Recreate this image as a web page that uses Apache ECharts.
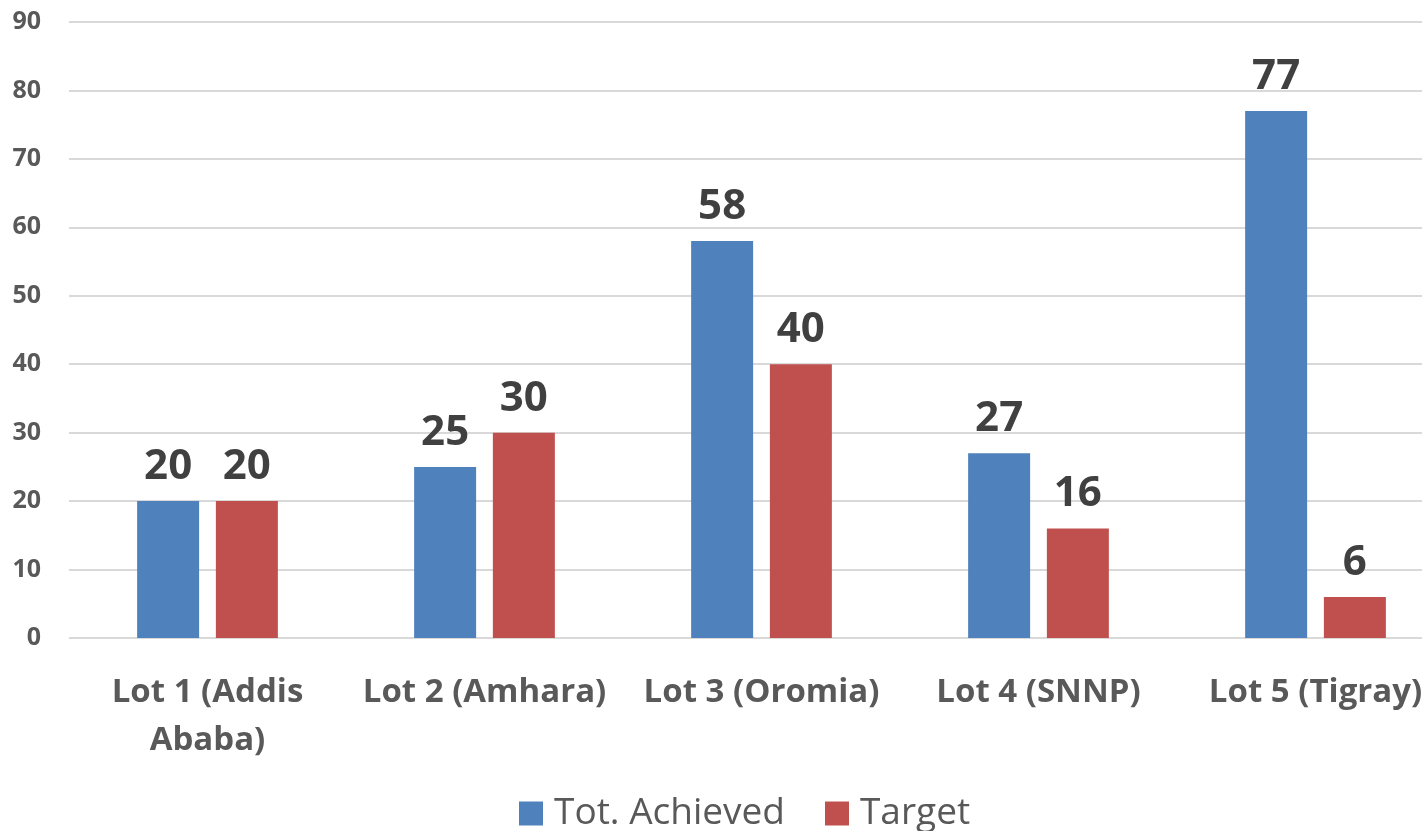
<!DOCTYPE html>
<html>
<head>
<meta charset="utf-8">
<script src="https://cdn.jsdelivr.net/npm/echarts@6/dist/echarts.min.js"></script>
<style>
  html, body { margin: 0; padding: 0; background: #fff; overflow: hidden; }
  #chart { width: 1454px; height: 831px; }
</style>
</head>
<body>
<div id="chart"></div>
<script>
var categories = ['Lot 1 (Addis\nAbaba)', 'Lot 2 (Amhara)', 'Lot 3 (Oromia)', 'Lot 4 (SNNP)', 'Lot 5 (Tigray)'];
var achieved = [20, 25, 58, 27, 77];
var target = [20, 30, 40, 16, 6];
var yTicks = { min: 0, max: 90, interval: 10 };

var font = '"Open Sans", sans-serif';

var labelStyle = {
    show: true,
    position: 'top',
    distance: 13,
    fontFamily: font,
    fontWeight: 'bold',
    fontSize: 42,
    color: '#404040'
};

// the plot area runs past the right edge of the window, as in the source image
var myChart = echarts.init(document.getElementById('chart'));
myChart.setOption({
    animation: false,
    grid: { left: 69, right: 0, top: 22, bottom: 193 },
    legend: {
        top: 790,
        left: 514,
        itemWidth: 24,
        itemHeight: 24,
        itemGap: 40,
        icon: 'rect',
        textStyle: { fontFamily: font, fontSize: 37, color: '#595959', padding: [0, 0, 0, 6] },
        data: ['Tot. Achieved', 'Target']
    },
    xAxis: {
        type: 'category',
        data: categories,
        axisLine: { show: false },
        axisTick: { show: false },
        axisLabel: {
            margin: 31,
            interval: 0,
            fontFamily: font,
            fontWeight: 'bold',
            fontSize: 33,
            lineHeight: 48,
            color: '#595959'
        }
    },
    yAxis: {
        type: 'value',
        min: yTicks.min,
        max: yTicks.max,
        interval: yTicks.interval,
        axisLine: { show: false },
        axisTick: { show: false },
        axisLabel: {
            margin: 28,
            fontFamily: font,
            fontWeight: 'bold',
            fontSize: 25,
            color: '#595959'
        },
        splitLine: { lineStyle: { color: '#d9d9d9', width: 2 } }
    },
    series: [
        {
            name: 'Tot. Achieved',
            type: 'bar',
            data: achieved,
            barWidth: 62,
            barGap: '27%',
            itemStyle: { color: '#4f81bd' },
            label: labelStyle
        },
        {
            name: 'Target',
            type: 'bar',
            data: target,
            barWidth: 62,
            itemStyle: { color: '#c0504d' },
            label: labelStyle
        }
    ]
});
</script>
</body>
</html>
